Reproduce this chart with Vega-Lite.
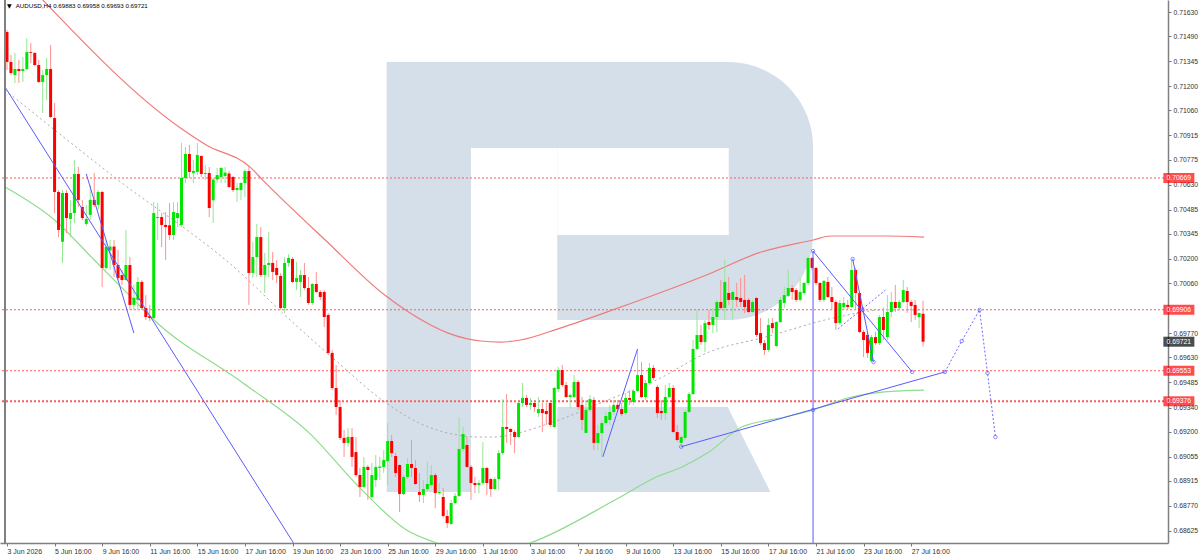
{
  "$schema": "https://vega.github.io/schema/vega-lite/v6.json",
  "width": 1168,
  "height": 543,
  "autosize": {"type": "none"},
  "padding": {"left": 0, "top": 0, "right": 32, "bottom": 12},
  "background": "white",
  "config": {
    "view": {"stroke": null},
    "font": "Liberation Sans",
    "axis": {"grid": false, "domainColor": "#808080", "domainWidth": 1.5, "tickColor": "#777777", "tickSize": 3, "labelColor": "#333333", "labelFlush": false, "labelOverlap": false}
  },
  "resolve": {"axis": {"x": "independent", "y": "independent"}},
  "datasets": {
    "candles": [
      {"i":0,"o":0.71514,"h":0.71526,"l":0.71294,"c":0.71341},
      {"i":1,"o":0.71341,"h":0.71381,"l":0.71265,"c":0.71277},
      {"i":2,"o":0.71265,"h":0.71393,"l":0.71219,"c":0.71300},
      {"i":3,"o":0.71300,"h":0.71352,"l":0.71219,"c":0.71288},
      {"i":4,"o":0.71288,"h":0.71369,"l":0.71225,"c":0.71300},
      {"i":5,"o":0.71300,"h":0.71479,"l":0.71294,"c":0.71398},
      {"i":6,"o":0.71398,"h":0.71451,"l":0.71335,"c":0.71393},
      {"i":7,"o":0.71393,"h":0.71398,"l":0.71317,"c":0.71323},
      {"i":8,"o":0.71323,"h":0.71352,"l":0.71219,"c":0.71225},
      {"i":9,"o":0.71225,"h":0.71294,"l":0.71045,"c":0.71265},
      {"i":10,"o":0.71265,"h":0.71364,"l":0.71121,"c":0.71300},
      {"i":11,"o":0.71300,"h":0.71439,"l":0.71016,"c":0.71022},
      {"i":12,"o":0.71016,"h":0.71103,"l":0.70466,"c":0.70588},
      {"i":13,"o":0.70588,"h":0.70599,"l":0.70327,"c":0.70368},
      {"i":14,"o":0.70300,"h":0.70599,"l":0.70177,"c":0.70582},
      {"i":15,"o":0.70582,"h":0.70599,"l":0.70350,"c":0.70437},
      {"i":16,"o":0.70432,"h":0.70542,"l":0.70327,"c":0.70466},
      {"i":17,"o":0.70466,"h":0.70773,"l":0.70408,"c":0.70692},
      {"i":18,"o":0.70692,"h":0.70733,"l":0.70501,"c":0.70542},
      {"i":19,"o":0.70501,"h":0.70542,"l":0.70426,"c":0.70437},
      {"i":20,"o":0.70403,"h":0.70513,"l":0.70391,"c":0.70432},
      {"i":21,"o":0.70455,"h":0.70628,"l":0.70426,"c":0.70542},
      {"i":22,"o":0.70542,"h":0.70698,"l":0.70501,"c":0.70513},
      {"i":23,"o":0.70513,"h":0.70599,"l":0.70484,"c":0.70588},
      {"i":24,"o":0.70588,"h":0.70595,"l":0.70038,"c":0.70148},
      {"i":25,"o":0.70148,"h":0.70310,"l":0.70136,"c":0.70269},
      {"i":26,"o":0.70250,"h":0.70310,"l":0.70136,"c":0.70272},
      {"i":27,"o":0.70272,"h":0.70310,"l":0.70096,"c":0.70165},
      {"i":28,"o":0.70165,"h":0.70252,"l":0.70078,"c":0.70090},
      {"i":29,"o":0.70107,"h":0.70136,"l":0.70049,"c":0.70078},
      {"i":30,"o":0.70078,"h":0.70368,"l":0.70075,"c":0.70165},
      {"i":31,"o":0.70165,"h":0.70211,"l":0.69905,"c":0.69934},
      {"i":32,"o":0.69934,"h":0.70050,"l":0.69905,"c":0.69975},
      {"i":33,"o":0.69963,"h":0.70096,"l":0.69905,"c":0.70067},
      {"i":34,"o":0.70067,"h":0.70078,"l":0.69905,"c":0.69916},
      {"i":35,"o":0.69916,"h":0.69991,"l":0.69847,"c":0.69864},
      {"i":36,"o":0.69870,"h":0.69934,"l":0.69840,"c":0.69858},
      {"i":37,"o":0.69858,"h":0.70530,"l":0.69847,"c":0.70466},
      {"i":38,"o":0.70437,"h":0.70524,"l":0.70310,"c":0.70443},
      {"i":39,"o":0.70443,"h":0.70466,"l":0.70269,"c":0.70397},
      {"i":40,"o":0.70397,"h":0.70472,"l":0.70194,"c":0.70385},
      {"i":41,"o":0.70395,"h":0.70524,"l":0.70310,"c":0.70339},
      {"i":42,"o":0.70339,"h":0.70530,"l":0.70310,"c":0.70472},
      {"i":43,"o":0.70437,"h":0.70530,"l":0.70385,"c":0.70466},
      {"i":44,"o":0.70397,"h":0.70872,"l":0.70385,"c":0.70669},
      {"i":45,"o":0.70669,"h":0.70848,"l":0.70640,"c":0.70808},
      {"i":46,"o":0.70808,"h":0.70860,"l":0.70669,"c":0.70704},
      {"i":47,"o":0.70698,"h":0.70773,"l":0.70640,"c":0.70710},
      {"i":48,"o":0.70704,"h":0.70872,"l":0.70686,"c":0.70802},
      {"i":49,"o":0.70796,"h":0.70802,"l":0.70675,"c":0.70692},
      {"i":50,"o":0.70692,"h":0.70744,"l":0.70657,"c":0.70698},
      {"i":51,"o":0.70698,"h":0.70733,"l":0.70443,"c":0.70495},
      {"i":52,"o":0.70540,"h":0.70669,"l":0.70408,"c":0.70660},
      {"i":53,"o":0.70660,"h":0.70727,"l":0.70640,"c":0.70686},
      {"i":54,"o":0.70675,"h":0.70733,"l":0.70640,"c":0.70727},
      {"i":55,"o":0.70680,"h":0.70733,"l":0.70640,"c":0.70700},
      {"i":56,"o":0.70695,"h":0.70710,"l":0.70611,"c":0.70617},
      {"i":57,"o":0.70675,"h":0.70680,"l":0.70588,"c":0.70599},
      {"i":58,"o":0.70599,"h":0.70640,"l":0.70530,"c":0.70611},
      {"i":59,"o":0.70599,"h":0.70645,"l":0.70542,"c":0.70640},
      {"i":60,"o":0.70640,"h":0.70720,"l":0.70559,"c":0.70709},
      {"i":61,"o":0.70709,"h":0.70744,"l":0.69934,"c":0.70119},
      {"i":62,"o":0.70119,"h":0.70298,"l":0.70090,"c":0.70211},
      {"i":63,"o":0.70211,"h":0.70403,"l":0.70096,"c":0.70327},
      {"i":64,"o":0.70327,"h":0.70385,"l":0.70096,"c":0.70107},
      {"i":65,"o":0.70107,"h":0.70235,"l":0.70003,"c":0.70165},
      {"i":66,"o":0.70165,"h":0.70356,"l":0.70096,"c":0.70177},
      {"i":67,"o":0.70177,"h":0.70240,"l":0.70078,"c":0.70125},
      {"i":68,"o":0.70148,"h":0.70194,"l":0.70061,"c":0.70107},
      {"i":69,"o":0.70102,"h":0.70119,"l":0.69905,"c":0.69916},
      {"i":70,"o":0.69916,"h":0.70211,"l":0.69887,"c":0.70177},
      {"i":71,"o":0.70177,"h":0.70229,"l":0.70154,"c":0.70206},
      {"i":72,"o":0.70200,"h":0.70211,"l":0.70061,"c":0.70067},
      {"i":73,"o":0.70067,"h":0.70183,"l":0.70020,"c":0.70090},
      {"i":74,"o":0.70067,"h":0.70136,"l":0.69980,"c":0.70107},
      {"i":75,"o":0.70107,"h":0.70177,"l":0.70020,"c":0.70032},
      {"i":76,"o":0.70032,"h":0.70096,"l":0.69934,"c":0.69945},
      {"i":77,"o":0.69945,"h":0.70061,"l":0.69934,"c":0.70055},
      {"i":78,"o":0.70055,"h":0.70125,"l":0.70003,"c":0.70009},
      {"i":79,"o":0.70009,"h":0.70020,"l":0.69963,"c":0.69980},
      {"i":80,"o":0.70009,"h":0.70020,"l":0.69806,"c":0.69864},
      {"i":81,"o":0.69876,"h":0.69887,"l":0.69644,"c":0.69656},
      {"i":82,"o":0.69656,"h":0.69673,"l":0.69441,"c":0.69453},
      {"i":83,"o":0.69453,"h":0.69586,"l":0.69297,"c":0.69343},
      {"i":84,"o":0.69343,"h":0.69384,"l":0.69152,"c":0.69164},
      {"i":85,"o":0.69164,"h":0.69210,"l":0.69054,"c":0.69135},
      {"i":86,"o":0.69135,"h":0.69221,"l":0.69113,"c":0.69169},
      {"i":87,"o":0.69169,"h":0.69221,"l":0.68996,"c":0.69054},
      {"i":88,"o":0.69082,"h":0.69169,"l":0.68938,"c":0.68949},
      {"i":89,"o":0.68949,"h":0.68990,"l":0.68822,"c":0.68880},
      {"i":90,"o":0.68880,"h":0.69054,"l":0.68875,"c":0.68996},
      {"i":91,"o":0.68996,"h":0.69007,"l":0.68805,"c":0.68978},
      {"i":92,"o":0.68822,"h":0.69019,"l":0.68816,"c":0.68949},
      {"i":93,"o":0.68920,"h":0.69065,"l":0.68880,"c":0.68996},
      {"i":94,"o":0.68990,"h":0.69054,"l":0.68920,"c":0.68998},
      {"i":95,"o":0.68996,"h":0.69094,"l":0.68961,"c":0.69036},
      {"i":96,"o":0.69030,"h":0.69250,"l":0.68891,"c":0.69146},
      {"i":97,"o":0.69146,"h":0.69181,"l":0.69054,"c":0.69076},
      {"i":98,"o":0.69059,"h":0.69076,"l":0.68938,"c":0.68961},
      {"i":99,"o":0.69007,"h":0.69010,"l":0.68735,"c":0.68839},
      {"i":100,"o":0.68839,"h":0.68949,"l":0.68834,"c":0.68938},
      {"i":101,"o":0.68938,"h":0.69048,"l":0.68926,"c":0.69013},
      {"i":102,"o":0.69013,"h":0.69152,"l":0.68938,"c":0.68990},
      {"i":103,"o":0.68990,"h":0.69036,"l":0.68891,"c":0.68897},
      {"i":104,"o":0.68851,"h":0.68961,"l":0.68793,"c":0.68834},
      {"i":105,"o":0.68834,"h":0.68920,"l":0.68787,"c":0.68868},
      {"i":106,"o":0.68868,"h":0.69025,"l":0.68851,"c":0.68897},
      {"i":107,"o":0.68891,"h":0.69007,"l":0.68875,"c":0.68949},
      {"i":108,"o":0.68949,"h":0.68961,"l":0.68758,"c":0.68845},
      {"i":109,"o":0.68845,"h":0.68903,"l":0.68834,"c":0.68851},
      {"i":110,"o":0.68822,"h":0.68874,"l":0.68700,"c":0.68712},
      {"i":111,"o":0.68712,"h":0.68747,"l":0.68642,"c":0.68671},
      {"i":112,"o":0.68666,"h":0.68805,"l":0.68660,"c":0.68787},
      {"i":113,"o":0.68787,"h":0.68845,"l":0.68781,"c":0.68828},
      {"i":114,"o":0.68828,"h":0.69285,"l":0.68822,"c":0.69100},
      {"i":115,"o":0.69100,"h":0.69227,"l":0.69082,"c":0.69187},
      {"i":116,"o":0.69123,"h":0.69169,"l":0.68990,"c":0.68996},
      {"i":117,"o":0.68996,"h":0.69007,"l":0.68805,"c":0.68903},
      {"i":118,"o":0.68903,"h":0.68938,"l":0.68845,"c":0.68891},
      {"i":119,"o":0.68891,"h":0.68920,"l":0.68845,"c":0.68903},
      {"i":120,"o":0.68903,"h":0.69140,"l":0.68891,"c":0.68990},
      {"i":121,"o":0.68990,"h":0.68996,"l":0.68834,"c":0.68903},
      {"i":122,"o":0.68926,"h":0.68932,"l":0.68822,"c":0.68868},
      {"i":123,"o":0.68868,"h":0.68938,"l":0.68862,"c":0.68926},
      {"i":124,"o":0.68926,"h":0.69094,"l":0.68862,"c":0.69076},
      {"i":125,"o":0.69076,"h":0.69389,"l":0.69065,"c":0.69227},
      {"i":126,"o":0.69227,"h":0.69418,"l":0.69135,"c":0.69216},
      {"i":127,"o":0.69216,"h":0.69221,"l":0.69123,"c":0.69198},
      {"i":128,"o":0.69198,"h":0.69210,"l":0.69076,"c":0.69169},
      {"i":129,"o":0.69169,"h":0.69372,"l":0.69164,"c":0.69366},
      {"i":130,"o":0.69366,"h":0.69482,"l":0.69343,"c":0.69395},
      {"i":131,"o":0.69395,"h":0.69412,"l":0.69343,"c":0.69355},
      {"i":132,"o":0.69355,"h":0.69395,"l":0.69326,"c":0.69366},
      {"i":133,"o":0.69366,"h":0.69372,"l":0.69314,"c":0.69343},
      {"i":134,"o":0.69308,"h":0.69401,"l":0.69285,"c":0.69331},
      {"i":135,"o":0.69331,"h":0.69366,"l":0.69198,"c":0.69308},
      {"i":136,"o":0.69320,"h":0.69366,"l":0.69239,"c":0.69302},
      {"i":137,"o":0.69366,"h":0.69372,"l":0.69227,"c":0.69239},
      {"i":138,"o":0.69227,"h":0.69459,"l":0.69221,"c":0.69453},
      {"i":139,"o":0.69447,"h":0.69575,"l":0.69430,"c":0.69557},
      {"i":140,"o":0.69557,"h":0.69586,"l":0.69459,"c":0.69470},
      {"i":141,"o":0.69470,"h":0.69488,"l":0.69395,"c":0.69401},
      {"i":142,"o":0.69401,"h":0.69424,"l":0.69337,"c":0.69412},
      {"i":143,"o":0.69401,"h":0.69528,"l":0.69395,"c":0.69488},
      {"i":144,"o":0.69488,"h":0.69499,"l":0.69326,"c":0.69343},
      {"i":145,"o":0.69355,"h":0.69401,"l":0.69210,"c":0.69268},
      {"i":146,"o":0.69193,"h":0.69384,"l":0.69190,"c":0.69326},
      {"i":147,"o":0.69326,"h":0.69412,"l":0.69314,"c":0.69389},
      {"i":148,"o":0.69384,"h":0.69401,"l":0.69094,"c":0.69135},
      {"i":149,"o":0.69135,"h":0.69239,"l":0.69094,"c":0.69192},
      {"i":150,"o":0.69192,"h":0.69268,"l":0.69054,"c":0.69250},
      {"i":151,"o":0.69250,"h":0.69314,"l":0.69239,"c":0.69291},
      {"i":152,"o":0.69268,"h":0.69355,"l":0.69239,"c":0.69314},
      {"i":153,"o":0.69314,"h":0.69384,"l":0.69297,"c":0.69355},
      {"i":154,"o":0.69355,"h":0.69384,"l":0.69314,"c":0.69331},
      {"i":155,"o":0.69331,"h":0.69366,"l":0.69291,"c":0.69302},
      {"i":156,"o":0.69308,"h":0.69424,"l":0.69297,"c":0.69395},
      {"i":157,"o":0.69395,"h":0.69441,"l":0.69355,"c":0.69384},
      {"i":158,"o":0.69372,"h":0.69441,"l":0.69355,"c":0.69436},
      {"i":159,"o":0.69436,"h":0.69673,"l":0.69430,"c":0.69528},
      {"i":160,"o":0.69528,"h":0.69604,"l":0.69395,"c":0.69401},
      {"i":161,"o":0.69401,"h":0.69499,"l":0.69384,"c":0.69482},
      {"i":162,"o":0.69482,"h":0.69598,"l":0.69470,"c":0.69569},
      {"i":163,"o":0.69569,"h":0.69586,"l":0.69499,"c":0.69511},
      {"i":164,"o":0.69459,"h":0.69470,"l":0.69279,"c":0.69308},
      {"i":165,"o":0.69320,"h":0.69384,"l":0.69268,"c":0.69308},
      {"i":166,"o":0.69308,"h":0.69470,"l":0.69268,"c":0.69401},
      {"i":167,"o":0.69401,"h":0.69482,"l":0.69395,"c":0.69453},
      {"i":168,"o":0.69453,"h":0.69470,"l":0.69192,"c":0.69198},
      {"i":169,"o":0.69198,"h":0.69239,"l":0.69140,"c":0.69152},
      {"i":170,"o":0.69135,"h":0.69181,"l":0.69123,"c":0.69169},
      {"i":171,"o":0.69164,"h":0.69326,"l":0.69152,"c":0.69314},
      {"i":172,"o":0.69314,"h":0.69430,"l":0.69308,"c":0.69418},
      {"i":173,"o":0.69418,"h":0.69731,"l":0.69412,"c":0.69679},
      {"i":174,"o":0.69679,"h":0.69905,"l":0.69673,"c":0.69760},
      {"i":175,"o":0.69760,"h":0.69818,"l":0.69702,"c":0.69719},
      {"i":176,"o":0.69719,"h":0.69847,"l":0.69661,"c":0.69829},
      {"i":177,"o":0.69835,"h":0.69905,"l":0.69789,"c":0.69818},
      {"i":178,"o":0.69818,"h":0.69916,"l":0.69771,"c":0.69864},
      {"i":179,"o":0.69864,"h":0.69963,"l":0.69777,"c":0.69951},
      {"i":180,"o":0.69951,"h":0.70078,"l":0.69905,"c":0.69916},
      {"i":181,"o":0.69916,"h":0.70194,"l":0.69847,"c":0.70067},
      {"i":182,"o":0.70003,"h":0.70096,"l":0.69934,"c":0.69963},
      {"i":183,"o":0.69963,"h":0.70015,"l":0.69847,"c":0.70009},
      {"i":184,"o":0.69980,"h":0.70061,"l":0.69922,"c":0.69963},
      {"i":185,"o":0.69974,"h":0.70090,"l":0.69922,"c":0.69951},
      {"i":186,"o":0.69963,"h":0.70107,"l":0.69887,"c":0.69922},
      {"i":187,"o":0.69963,"h":0.69974,"l":0.69887,"c":0.69893},
      {"i":188,"o":0.69893,"h":0.69963,"l":0.69887,"c":0.69951},
      {"i":189,"o":0.69974,"h":0.69980,"l":0.69748,"c":0.69760},
      {"i":190,"o":0.69771,"h":0.69858,"l":0.69702,"c":0.69713},
      {"i":191,"o":0.69713,"h":0.69731,"l":0.69644,"c":0.69673},
      {"i":192,"o":0.69673,"h":0.69858,"l":0.69661,"c":0.69818},
      {"i":193,"o":0.69829,"h":0.69858,"l":0.69771,"c":0.69800},
      {"i":194,"o":0.69696,"h":0.69841,"l":0.69690,"c":0.69835},
      {"i":195,"o":0.69835,"h":0.69980,"l":0.69829,"c":0.69963},
      {"i":196,"o":0.69945,"h":0.70038,"l":0.69916,"c":0.69991},
      {"i":197,"o":0.69986,"h":0.70136,"l":0.69980,"c":0.70032},
      {"i":198,"o":0.70032,"h":0.70049,"l":0.69963,"c":0.70009},
      {"i":199,"o":0.70020,"h":0.70032,"l":0.69951,"c":0.69963},
      {"i":200,"o":0.69963,"h":0.70090,"l":0.69951,"c":0.70009},
      {"i":201,"o":0.70003,"h":0.70067,"l":0.69991,"c":0.70061},
      {"i":202,"o":0.70061,"h":0.70211,"l":0.70049,"c":0.70206},
      {"i":203,"o":0.70206,"h":0.70211,"l":0.70136,"c":0.70148},
      {"i":204,"o":0.70148,"h":0.70154,"l":0.70049,"c":0.70061},
      {"i":205,"o":0.70061,"h":0.70067,"l":0.69951,"c":0.69963},
      {"i":206,"o":0.69963,"h":0.70078,"l":0.69951,"c":0.70073},
      {"i":207,"o":0.70067,"h":0.70096,"l":0.69974,"c":0.69980},
      {"i":208,"o":0.69980,"h":0.70038,"l":0.69905,"c":0.69951},
      {"i":209,"o":0.69951,"h":0.69963,"l":0.69789,"c":0.69829},
      {"i":210,"o":0.69829,"h":0.69963,"l":0.69818,"c":0.69945},
      {"i":211,"o":0.69922,"h":0.69980,"l":0.69905,"c":0.69945},
      {"i":212,"o":0.69934,"h":0.69963,"l":0.69905,"c":0.69922},
      {"i":213,"o":0.69922,"h":0.70194,"l":0.69916,"c":0.70136},
      {"i":214,"o":0.70136,"h":0.70148,"l":0.69905,"c":0.70003},
      {"i":215,"o":0.70003,"h":0.70009,"l":0.69771,"c":0.69777},
      {"i":216,"o":0.69777,"h":0.69789,"l":0.69632,"c":0.69731},
      {"i":217,"o":0.69760,"h":0.69771,"l":0.69627,"c":0.69656},
      {"i":218,"o":0.69610,"h":0.69760,"l":0.69604,"c":0.69748},
      {"i":219,"o":0.69748,"h":0.69777,"l":0.69702,"c":0.69713},
      {"i":220,"o":0.69713,"h":0.69876,"l":0.69702,"c":0.69864},
      {"i":221,"o":0.69864,"h":0.69916,"l":0.69731,"c":0.69789},
      {"i":222,"o":0.69748,"h":0.69991,"l":0.69731,"c":0.69893},
      {"i":223,"o":0.69893,"h":0.70009,"l":0.69864,"c":0.69951},
      {"i":224,"o":0.69951,"h":0.70049,"l":0.69893,"c":0.69916},
      {"i":225,"o":0.69916,"h":0.69963,"l":0.69905,"c":0.69951},
      {"i":226,"o":0.69951,"h":0.70078,"l":0.69945,"c":0.70020},
      {"i":227,"o":0.70015,"h":0.70038,"l":0.69887,"c":0.69951},
      {"i":228,"o":0.69951,"h":0.69963,"l":0.69835,"c":0.69928},
      {"i":229,"o":0.69934,"h":0.69963,"l":0.69847,"c":0.69876},
      {"i":230,"o":0.69864,"h":0.69890,"l":0.69800,"c":0.69887},
      {"i":231,"o":0.69883,"h":0.69958,"l":0.69693,"c":0.69721}
    ],
    "ma": [
      {"m":"r","i":9,"p":0.71700},{"m":"r","i":43.75,"p":0.70958},{"m":"r","i":50.25,"p":0.70860},
      {"m":"r","i":61.25,"p":0.70733},{"m":"r","i":64.5,"p":0.70657},{"m":"r","i":80.25,"p":0.70310},
      {"m":"r","i":95.25,"p":0.69991},{"m":"r","i":101.25,"p":0.69893},{"m":"r","i":111.25,"p":0.69771},
      {"m":"r","i":119.5,"p":0.69725},{"m":"r","i":124.5,"p":0.69719},{"m":"r","i":129.5,"p":0.69731},
      {"m":"r","i":139.5,"p":0.69800},{"m":"r","i":152.75,"p":0.69905},{"m":"r","i":177,"p":0.70113},
      {"m":"r","i":189.5,"p":0.70235},{"m":"r","i":203.25,"p":0.70310},{"m":"r","i":207.75,"p":0.70333},
      {"m":"r","i":221.25,"p":0.70333},{"m":"r","i":231.25,"p":0.70327},
      {"m":"g","i":-0.5,"p":0.70617},{"m":"g","i":12,"p":0.70426},{"m":"g","i":22,"p":0.70194},
      {"m":"g","i":32,"p":0.69963},{"m":"g","i":36.25,"p":0.69864},{"m":"g","i":59.5,"p":0.69482},
      {"m":"g","i":76.25,"p":0.69192},{"m":"g","i":88.75,"p":0.68880},{"m":"g","i":100.75,"p":0.68631},
      {"m":"g","i":108.25,"p":0.68556},{"m":"g","i":119.5,"p":0.68480},{"m":"g","i":132,"p":0.68556},
      {"m":"g","i":153.75,"p":0.68810},{"m":"g","i":163.75,"p":0.68938},{"m":"g","i":170.25,"p":0.68996},
      {"m":"g","i":177,"p":0.69082},{"m":"g","i":185.25,"p":0.69227},{"m":"g","i":196.25,"p":0.69285},
      {"m":"g","i":203.25,"p":0.69326},{"m":"g","i":212,"p":0.69395},{"m":"g","i":221.25,"p":0.69430},
      {"m":"g","i":231.25,"p":0.69441},
      {"m":"s","i":-0.5,"p":0.71178},{"m":"s","i":27,"p":0.70675},{"m":"s","i":59.5,"p":0.70107},
      {"m":"s","i":69.5,"p":0.69887},{"m":"s","i":82.75,"p":0.69615},{"m":"s","i":95.25,"p":0.69372},
      {"m":"s","i":106.25,"p":0.69227},{"m":"s","i":119.5,"p":0.69169},{"m":"s","i":122,"p":0.69169},
      {"m":"s","i":137.75,"p":0.69256},{"m":"s","i":150.25,"p":0.69372},{"m":"s","i":163.75,"p":0.69499},
      {"m":"s","i":177,"p":0.69661},{"m":"s","i":191.25,"p":0.69748},{"m":"s","i":209.5,"p":0.69864},
      {"m":"s","i":221.25,"p":0.69905},{"m":"s","i":231.25,"p":0.69905}
    ],
    "blue": [
      {"s":"a","i":-0.5,"p":0.71196},{"s":"a","i":72.25,"p":0.68556},
      {"s":"b","i":20,"p":0.70692},{"s":"b","i":32,"p":0.69771},
      {"s":"c","i":150.25,"p":0.69054},{"s":"c","i":159,"p":0.69679},
      {"s":"d","i":170,"p":0.69113},{"s":"d","i":236.5,"p":0.69546},
      {"s":"e","i":203.25,"p":0.70246},{"s":"e","i":203.26,"p":0.68556},
      {"s":"f","i":203.25,"p":0.70246},{"s":"f","i":228.25,"p":0.69546},
      {"s":"g","i":213.25,"p":0.70200},{"s":"g","i":218.5,"p":0.69604}
    ],
    "bluedot": [
      {"s":"h","i":209.5,"p":0.69795},{"s":"h","i":221.5,"p":0.70020},
      {"s":"f","i":236.5,"p":0.69546},{"s":"f","i":240.75,"p":0.69725},{"s":"f","i":245.25,"p":0.69905},
      {"s":"f","i":247.25,"p":0.69540},{"s":"f","i":249.25,"p":0.69169}
    ],
    "anchors": [
      {"i":203.25,"p":0.70246},{"i":213.25,"p":0.70200},{"i":218.5,"p":0.69604},{"i":228.25,"p":0.69546},
      {"i":170,"p":0.69113},{"i":236.5,"p":0.69546},{"i":203.25,"p":0.69326},{"i":215.75,"p":0.69905},
      {"i":240.75,"p":0.69725},{"i":245.25,"p":0.69905},{"i":247.25,"p":0.69540},{"i":249.25,"p":0.69169}
    ],
    "levels": [{"p":0.70669},{"p":0.69906},{"p":0.69553},{"p":0.69376}],
    "tags": [
      {"p":0.70669,"k":"level"},{"p":0.69906,"k":"level"},{"p":0.69553,"k":"level"},
      {"p":0.69376,"k":"level"},{"p":0.69721,"k":"bid"}
    ],
    "logoBlocks": [
      {"x1":95.75,"x2":117,"y1":0.71341,"y2":0.68851},
      {"x1":116.5,"x2":139.5,"y1":0.71341,"y2":0.70843}
    ],
    "logoBowl": [{"x1":138.75,"x2":203.25,"y1":0.71341,"y2":0.69847}],
    "logoHole": [{"x1":138.75,"x2":182,"y1":0.70843,"y2":0.70339}],
    "logoLeg": [
      {"p":0.69343,"a":138.75,"b":181.75},
      {"p":0.68851,"a":138.75,"b":192.5}
    ]
  },
  "layer": [
    {
      "data": {"name": "logoBlocks"},
      "mark": {"type": "rect", "color": "#d5dfea"},
      "encoding": {
        "x": {
          "field": "x1", "type": "quantitative", "title": null,
          "scale": {"domain": [-0.5, 291.5], "nice": false, "zero": false},
          "axis": {
            "orient": "bottom", "title": null,
            "values": [0, 12, 24, 36, 48, 60, 72, 84, 96, 108, 120, 132, 144, 156, 168, 180, 192, 204, 216, 228],
            "labelExpr": "['3 Jun 2026','5 Jun 16:00','9 Jun 16:00','11 Jun 16:00','15 Jun 16:00','17 Jun 16:00','19 Jun 16:00','23 Jun 16:00','25 Jun 16:00','29 Jun 16:00','1 Jul 16:00','3 Jul 16:00','7 Jul 16:00','9 Jul 16:00','13 Jul 16:00','15 Jul 16:00','17 Jul 16:00','21 Jul 16:00','23 Jul 16:00','27 Jul 16:00'][round(datum.value / 12)]",
            "labelAlign": "left", "labelBaseline": "top", "labelPadding": 1, "labelFontSize": 7
          }
        },
        "x2": {"field": "x2"},
        "y": {
          "field": "y1", "type": "quantitative", "title": null,
          "scale": {"domain": [0.685555, 0.716995], "nice": false, "zero": false},
          "axis": {
            "orient": "right", "title": null,
            "values": [0.71630, 0.71490, 0.71345, 0.71200, 0.71060, 0.70915, 0.70775, 0.70630, 0.70485, 0.70345, 0.70200, 0.70060, 0.69770, 0.69630, 0.69485, 0.69340, 0.69200, 0.69055, 0.68915, 0.68770, 0.68625],
            "format": ".5f", "labelAlign": "left", "labelPadding": 2, "labelFontSize": 6.8
          }
        },
        "y2": {"field": "y2"}
      }
    },
    {
      "data": {"name": "logoBowl"},
      "mark": {"type": "rect", "color": "#d5dfea", "cornerRadiusTopRight": 85, "cornerRadiusBottomRight": 85},
      "encoding": {
        "x": {"field": "x1", "type": "quantitative", "scale": {"domain": [-0.5, 291.5]}, "axis": null},
        "x2": {"field": "x2"},
        "y": {"field": "y1", "type": "quantitative", "scale": {"domain": [0.685555, 0.716995]}, "axis": null},
        "y2": {"field": "y2"}
      }
    },
    {
      "data": {"name": "logoHole"},
      "mark": {"type": "rect", "color": "#ffffff"},
      "encoding": {
        "x": {"field": "x1", "type": "quantitative", "scale": {"domain": [-0.5, 291.5]}, "axis": null},
        "x2": {"field": "x2"},
        "y": {"field": "y1", "type": "quantitative", "scale": {"domain": [0.685555, 0.716995]}, "axis": null},
        "y2": {"field": "y2"}
      }
    },
    {
      "data": {"name": "logoLeg"},
      "mark": {"type": "area", "orient": "horizontal", "color": "#d5dfea", "opacity": 1},
      "encoding": {
        "y": {"field": "p", "type": "quantitative", "scale": {"domain": [0.685555, 0.716995]}, "axis": null},
        "x": {"field": "a", "type": "quantitative", "scale": {"domain": [-0.5, 291.5]}, "axis": null},
        "x2": {"field": "b"}
      }
    },
    {
      "data": {"name": "levels"},
      "mark": {"type": "rule", "color": "#ff5c5c", "strokeDash": [2, 2]},
      "encoding": {
        "y": {"field": "p", "type": "quantitative", "scale": {"domain": [0.685555, 0.716995]}, "axis": null},
        "strokeWidth": {"condition": {"test": "datum.p < 0.694", "value": 2}, "value": 1}
      }
    },
    {
      "data": {"name": "ma"},
      "transform": [{"filter": "datum.m == 'r'"}],
      "mark": {"type": "line", "color": "#f07a7a", "strokeWidth": 1.2, "interpolate": "monotone", "clip": true},
      "encoding": {
        "x": {"field": "i", "type": "quantitative", "scale": {"domain": [-0.5, 291.5]}, "axis": null},
        "y": {"field": "p", "type": "quantitative", "scale": {"domain": [0.685555, 0.716995]}, "axis": null}
      }
    },
    {
      "data": {"name": "ma"},
      "transform": [{"filter": "datum.m == 'g'"}],
      "mark": {"type": "line", "color": "#8edc8e", "strokeWidth": 1.2, "interpolate": "monotone", "clip": true},
      "encoding": {
        "x": {"field": "i", "type": "quantitative", "scale": {"domain": [-0.5, 291.5]}, "axis": null},
        "y": {"field": "p", "type": "quantitative", "scale": {"domain": [0.685555, 0.716995]}, "axis": null}
      }
    },
    {
      "data": {"name": "ma"},
      "transform": [{"filter": "datum.m == 's'"}],
      "mark": {"type": "line", "color": "#a9a9a9", "strokeWidth": 1, "strokeDash": [2, 3], "interpolate": "monotone", "clip": true},
      "encoding": {
        "x": {"field": "i", "type": "quantitative", "scale": {"domain": [-0.5, 291.5]}, "axis": null},
        "y": {"field": "p", "type": "quantitative", "scale": {"domain": [0.685555, 0.716995]}, "axis": null}
      }
    },
    {
      "data": {"name": "candles"},
      "mark": {"type": "rule", "strokeWidth": 1},
      "encoding": {
        "x": {"field": "i", "type": "quantitative", "scale": {"domain": [-0.5, 291.5]}, "axis": null},
        "y": {"field": "l", "type": "quantitative", "scale": {"domain": [0.685555, 0.716995]}, "axis": null},
        "y2": {"field": "h"},
        "color": {"condition": {"test": "datum.c >= datum.o", "value": "#93e693"}, "value": "#ff9090"}
      }
    },
    {
      "data": {"name": "candles"},
      "mark": {"type": "bar", "size": 3},
      "encoding": {
        "x": {"field": "i", "type": "quantitative", "scale": {"domain": [-0.5, 291.5]}, "axis": null},
        "y": {"field": "o", "type": "quantitative", "scale": {"domain": [0.685555, 0.716995]}, "axis": null},
        "y2": {"field": "c"},
        "color": {"condition": {"test": "datum.c >= datum.o", "value": "#00e600"}, "value": "#ff0000"}
      }
    },
    {
      "data": {"name": "blue"},
      "mark": {"type": "line", "color": "#5a5aff", "strokeWidth": 1, "clip": true},
      "encoding": {
        "x": {"field": "i", "type": "quantitative", "scale": {"domain": [-0.5, 291.5]}, "axis": null},
        "y": {"field": "p", "type": "quantitative", "scale": {"domain": [0.685555, 0.716995]}, "axis": null},
        "detail": {"field": "s"}
      }
    },
    {
      "data": {"name": "bluedot"},
      "mark": {"type": "line", "color": "#6a6aff", "strokeWidth": 1, "strokeDash": [2, 2]},
      "encoding": {
        "x": {"field": "i", "type": "quantitative", "scale": {"domain": [-0.5, 291.5]}, "axis": null},
        "y": {"field": "p", "type": "quantitative", "scale": {"domain": [0.685555, 0.716995]}, "axis": null},
        "detail": {"field": "s"}
      }
    },
    {
      "data": {"name": "anchors"},
      "mark": {"type": "point", "shape": "circle", "filled": false, "size": 12, "color": "#5a5aff", "strokeWidth": 1},
      "encoding": {
        "x": {"field": "i", "type": "quantitative", "scale": {"domain": [-0.5, 291.5]}, "axis": null},
        "y": {"field": "p", "type": "quantitative", "scale": {"domain": [0.685555, 0.716995]}, "axis": null}
      }
    },
    {
      "data": {"name": "tags"},
      "mark": {"type": "tick", "orient": "horizontal", "size": 31, "thickness": 10},
      "encoding": {
        "x": {"datum": 295.5, "type": "quantitative", "scale": {"domain": [-0.5, 291.5]}, "axis": null},
        "y": {"field": "p", "type": "quantitative", "scale": {"domain": [0.685555, 0.716995]}, "axis": null},
        "color": {"condition": {"test": "datum.k == 'bid'", "value": "#000000"}, "value": "#ff0000"}
      }
    },
    {
      "data": {"name": "tags"},
      "mark": {"type": "text", "color": "#ffffff", "fontSize": 6.8, "align": "center", "baseline": "middle"},
      "encoding": {
        "x": {"datum": 295.5, "type": "quantitative", "scale": {"domain": [-0.5, 291.5]}, "axis": null},
        "y": {"field": "p", "type": "quantitative", "scale": {"domain": [0.685555, 0.716995]}, "axis": null},
        "text": {"field": "p", "format": ".5f"}
      }
    },
    {
      "data": {"values": [{}]},
      "mark": {"type": "text", "text": "▼", "fontSize": 6, "color": "#000000", "align": "center", "baseline": "middle", "font": "DejaVu Sans"},
      "encoding": {
        "x": {"datum": 0.6, "type": "quantitative", "scale": {"domain": [-0.5, 291.5]}, "axis": null},
        "y": {"datum": 0.71665, "type": "quantitative", "scale": {"domain": [0.685555, 0.716995]}, "axis": null}
      }
    },
    {
      "data": {"values": [{}]},
      "mark": {"type": "text", "text": "AUDUSD,H4  0.69883 0.69958 0.69693 0.69721", "fontSize": 6.2, "color": "#000000", "align": "left", "baseline": "middle"},
      "encoding": {
        "x": {"datum": 2.2, "type": "quantitative", "scale": {"domain": [-0.5, 291.5]}, "axis": null},
        "y": {"datum": 0.71665, "type": "quantitative", "scale": {"domain": [0.685555, 0.716995]}, "axis": null}
      }
    },
    {
      "data": {"values": [{}]},
      "mark": {"type": "rule", "color": "#808080", "strokeWidth": 2},
      "encoding": {
        "x": {"datum": -0.5, "type": "quantitative", "scale": {"domain": [-0.5, 291.5]}, "axis": null}
      }
    }
  ]
}
